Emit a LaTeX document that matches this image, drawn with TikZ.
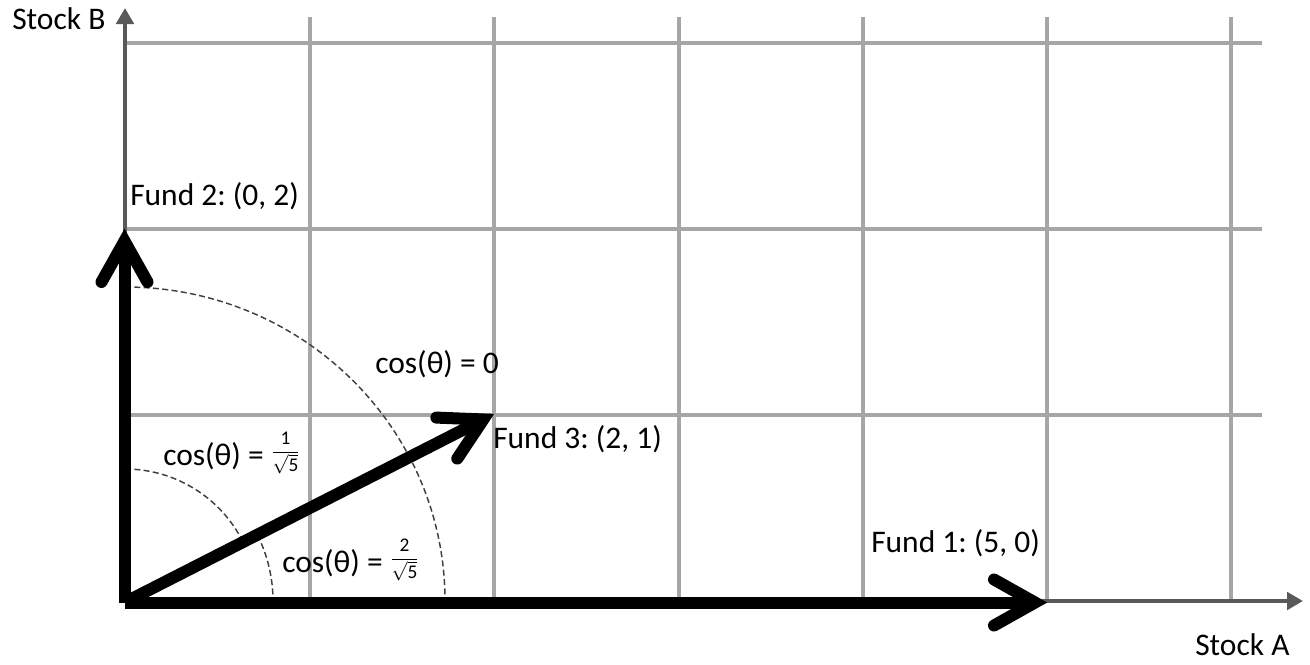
\documentclass[tikz,border=0pt]{standalone}
\usepackage{fontspec}
\setmainfont{Carlito}
\usetikzlibrary{arrows.meta,calc}
\definecolor{gridgray}{HTML}{A6A6A6}
\definecolor{axisgray}{HTML}{595959}
\definecolor{arcgray}{HTML}{404040}
\newcommand\myfrac[1]{\raisebox{5.8pt}{\fontsize{14.5pt}{15pt}\selectfont$\displaystyle\frac{\mbox{#1}}{\sqrt{\mbox{5}}}$}}
\frenchspacing
\begin{document}
\frenchspacing
\begin{tikzpicture}[x=0.75pt,y=-0.75pt,
  gridline/.style={gridgray, line width=3.2pt},
  axisline/.style={axisgray, line width=3.4pt, -{Triangle[length=12pt,width=13pt]}},
  arcline/.style={arcgray, line width=1.1pt, dash pattern=on 4.5pt off 2.5pt},
  fundshaft/.style={black, line width=9pt},
  fundhead/.style={black, line width=9pt, line cap=round, line join=miter},
  lbl/.style={inner sep=0pt, anchor=base west, font=\fontsize{23.6pt}{28pt}\selectfont\frenchspacing}]
\useasboundingbox (0,0) rectangle (1310,664);
% grid
\foreach \x in {310,494,679,863,1047,1231} \draw[gridline] (\x,17) -- (\x,601);
\foreach \y in {43,229,415} \draw[gridline] (125,\y) -- (1262,\y);
% axes
\coordinate (A) at (125,601);
\coordinate (Atop) at (125,8);
\coordinate (Aright) at (1303,601);
\draw[axisline] (A) -- (Atop);
\draw[axisline] (A) -- (Aright);
% angle arcs
\draw[arcline] ($(A)+(0,-132)$) arc[start angle=-90, end angle=-26.57, radius=132];
\draw[arcline] ($(A)+(-26.57:148)$) arc[start angle=-26.57, end angle=0, radius=148];
\draw[arcline] ($(A)+(0,-314)$) arc[start angle=-90, end angle=0, x radius=320, y radius=314];
% fund vectors
\coordinate (O) at (124.5,602.5);
\coordinate (F1) at (1047,602.5);
\coordinate (F2) at (124.5,229);
\coordinate (F3) at (494,414);
\foreach \t in {F1,F2,F3}{
  \coordinate (V) at ($(\t)!9pt!(O)$);
  \draw[fundshaft] (O) -- (V);
  \draw[fundhead] ($(V)!35.25pt!29.3:(O)$) -- (V) -- ($(V)!35.25pt!-29.3:(O)$);
}
% labels
\node[lbl] (sb) at (12,29) {Stock B};
\node[lbl] (sa) at (1195,655) {Stock A};
\node[lbl] (f2) at (130,205) {Fund 2: (0, 2)};
\node[lbl] (c0) at (375,373) {cos(θ) = 0};
\node[lbl] (f3) at (493,448) {Fund 3: (2, 1)};
\node[lbl] (c1) at (163,465) {cos(θ) = \myfrac{1}};
\node[lbl] (c2) at (282,572) {cos(θ) = \myfrac{2}};
\node[lbl] (f1) at (871,552) {Fund 1: (5, 0)};
\end{tikzpicture}
\end{document}
